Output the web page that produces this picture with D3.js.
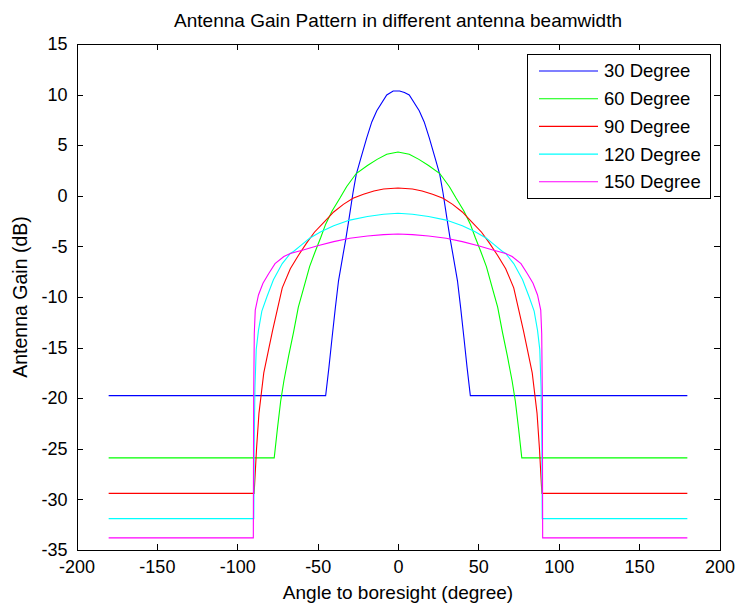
<!DOCTYPE html>
<html>
<head>
<meta charset="UTF-8">
<title>Antenna Gain Pattern</title>
<script src="https://cdnjs.cloudflare.com/ajax/libs/d3/7.8.5/d3.min.js"></script>
<style>
    body { margin: 0; padding: 0; background: #fff; }
    svg text { font-family: "Liberation Sans", Arial, Helvetica, sans-serif; fill: #000; }
    .axis path, .axis line { stroke: #000; stroke-width: 1; shape-rendering: crispEdges; }
</style>
</head>
<body>
<svg id="chart" width="737" height="603"></svg>
<script>
// values: [angle (deg), gain (dB)]
const beam30 = [[-180,-19.75],[-45,-19.75],[-43,-17.0],[-41,-14.0],[-39,-11.1],[-37,-8.4],[-34.5,-6.1],
    [-32.5,-4.3],[-30.5,-2.3],[-28,0.3],[-26,2.1],[-23.5,3.5],[-19.5,5.7],[-16.3,7.3],[-13.2,8.4],
    [-7,9.96],[-3,10.36],[1,10.36],[4,10.2],[7,9.96],[13.2,8.4],[16.3,7.3],[19.5,5.7],[23.5,3.5],[26,2.1],
    [28,0.3],[30.5,-2.3],[32.5,-4.3],[34.5,-6.1],[37,-8.4],[39,-11.1],[41,-14.0],[43,-17.0],[45,-19.75],[180,-19.75]];
const beam60 = [[-180,-25.9],[-77,-25.9],[-75,-23],[-73,-20.3],[-71,-18.3],[-68,-15.8],[-65,-13.5],[-62,-11],
    [-59,-9.3],[-55,-7],[-51.5,-5.5],[-48,-4.1],[-45,-2.8],[-41,-1.5],[-36,-0.2],[-32,0.9],[-26,2.2],
    [-19,3.0],[-13,3.6],[-7,4.1],[0,4.33],[7,4.1],[13,3.6],[19,3.0],[26,2.2],[32,0.9],[36,-0.2],[41,-1.5],
    [45,-2.8],[48,-4.1],[51.5,-5.5],[55,-7],[59,-9.3],[62,-11],[65,-13.5],[68,-15.8],[71,-18.3],[73,-20.3],
    [75,-23],[77,-25.9],[180,-25.9]];
const beam90 = [[-180,-29.4],[-89.5,-29.4],[-88,-25],[-86.5,-21.5],[-85,-19.5],[-83.5,-17.5],[-80.5,-15.2],
    [-78,-13.3],[-75,-11.2],[-72,-9.1],[-67,-7.2],[-62,-5.9],[-57,-4.7],[-52,-3.6],[-46,-2.6],[-40,-1.6],
    [-34,-0.85],[-28,-0.25],[-21.5,0.15],[-15,0.47],[-9,0.67],[0,0.77],[9,0.67],[15,0.47],[21.5,0.15],
    [28,-0.25],[34,-0.85],[40,-1.6],[46,-2.6],[52,-3.6],[57,-4.7],[62,-5.9],[67,-7.2],[72,-9.1],[75,-11.2],
    [78,-13.3],[80.5,-15.2],[83.5,-17.5],[85,-19.5],[86.5,-21.5],[88,-25],[89.5,-29.4],[180,-29.4]];
const beam120 = [[-180,-31.9],[-89.7,-31.9],[-89.5,-25],[-89,-19],[-88.2,-15.2],[-86.8,-13.3],[-84.7,-11.4],
    [-81.6,-10],[-77.5,-8.3],[-72,-6.7],[-67,-5.7],[-65,-5.5],[-60,-4.85],[-55,-4.2],[-48,-3.55],[-40,-2.95],
    [-30,-2.4],[-19,-2.05],[-9,-1.83],[0,-1.73],[9,-1.83],[19,-2.05],[30,-2.4],[40,-2.95],[48,-3.55],
    [55,-4.2],[60,-4.85],[65,-5.5],[67,-5.7],[72,-6.7],[77.5,-8.3],[81.6,-10],[84.7,-11.4],[86.8,-13.3],
    [88.2,-15.2],[89,-19],[89.5,-25],[89.7,-31.9],[180,-31.9]];
const beam150 = [[-180,-33.8],[-90,-33.8],[-89.8,-20],[-89.4,-13.6],[-88.8,-11.3],[-86.8,-9.8],[-84,-8.65],
    [-80.5,-7.7],[-76.5,-6.7],[-71,-6.0],[-67,-5.7],[-59,-5.35],[-50,-4.93],[-40,-4.53],[-30,-4.2],
    [-19,-3.97],[-9,-3.84],[0,-3.77],[9,-3.84],[19,-3.97],[30,-4.2],[40,-4.53],[50,-4.93],[59,-5.35],
    [67,-5.7],[71,-6.0],[76.5,-6.7],[80.5,-7.7],[84,-8.65],[86.8,-9.8],[88.8,-11.3],[89.4,-13.6],
    [89.8,-20],[90,-33.8],[180,-33.8]];

const seriesNames = ["30 Degree", "60 Degree", "90 Degree", "120 Degree", "150 Degree"];
const seriesColors = ["#0000ff", "#00ff00", "#ff0000", "#00ffff", "#ff00ff"];
const seriesData = [beam30, beam60, beam90, beam120, beam150];
const xTicks = [-200, -150, -100, -50, 0, 50, 100, 150, 200];
const yTicks = [-35, -30, -25, -20, -15, -10, -5, 0, 5, 10, 15];

const svg = d3.select("#chart");
const plotLeft = 76.5, plotRight = 719.5, plotTop = 44, plotBottom = 550;

const x = d3.scaleLinear().domain([-200, 200]).range([plotLeft, plotRight]);
const y = d3.scaleLinear().domain([-35, 15]).range([plotBottom, plotTop]);

svg.append("rect").attr("width", 737).attr("height", 603).attr("fill", "#fff");

// curves
const line = d3.line().x(d => x(d[0])).y(d => y(d[1]));
svg.append("g").selectAll("path")
    .data(seriesData)
    .join("path")
    .attr("d", line)
    .attr("fill", "none")
    .attr("stroke", (d, i) => seriesColors[i])
    .attr("stroke-width", 1.1);

// axes with inward ticks, box style (plain hyphen for negatives, like matlab)
const tick = 6;
const fmt = d => String(d);
const gx = svg.append("g").attr("class", "axis").attr("transform", `translate(0,${plotBottom})`)
    .call(d3.axisBottom(x).tickValues(xTicks).tickFormat(fmt).tickSizeInner(-tick).tickSizeOuter(0).tickPadding(10));
svg.append("g").attr("class", "axis").attr("transform", `translate(0,${plotTop})`)
    .call(d3.axisTop(x).tickValues(xTicks).tickSizeInner(-tick).tickSizeOuter(0).tickFormat(""));
const gy = svg.append("g").attr("class", "axis").attr("transform", `translate(${plotLeft},0)`)
    .call(d3.axisLeft(y).tickValues(yTicks).tickFormat(fmt).tickSizeInner(-tick).tickSizeOuter(0).tickPadding(9));
svg.append("g").attr("class", "axis").attr("transform", `translate(${plotRight},0)`)
    .call(d3.axisRight(y).tickValues(yTicks).tickSizeInner(-tick).tickSizeOuter(0).tickFormat(""));

svg.selectAll(".axis text").style("font-size", "18px").attr("font-family", null);
gx.selectAll("text").attr("dy", "0.71em");

// title and axis labels
svg.append("text").attr("x", (plotLeft + plotRight) / 2).attr("y", 27).attr("text-anchor", "middle")
    .attr("textLength", 448).attr("lengthAdjust", "spacing")
    .style("font-size", "19px").text("Antenna Gain Pattern in different antenna beamwidth");
svg.append("text").attr("x", (plotLeft + plotRight) / 2).attr("y", 599).attr("text-anchor", "middle")
    .style("font-size", "19px").text("Angle to boresight (degree)");
svg.append("text").attr("transform", `translate(27,${(plotTop + plotBottom) / 2}) rotate(-90)`)
    .attr("text-anchor", "middle").style("font-size", "19.5px").text("Antenna Gain (dB)");

// legend
const legend = svg.append("g");
legend.append("rect").attr("x", 527.5).attr("y", 54.5).attr("width", 183).attr("height", 144)
    .attr("fill", "#fff").attr("stroke", "#000").attr("stroke-width", 1);
const rows = legend.selectAll("g.row").data(seriesNames).join("g").attr("class", "row")
    .attr("transform", (d, i) => `translate(0,${71 + i * 27.7})`);
rows.append("line").attr("x1", 539).attr("x2", 598)
    .attr("stroke", (d, i) => seriesColors[i]).attr("stroke-width", 1.1);
rows.append("text").attr("x", 604).attr("dy", "0.35em").style("font-size", "18.5px").text(d => d);
</script>
</body>
</html>
